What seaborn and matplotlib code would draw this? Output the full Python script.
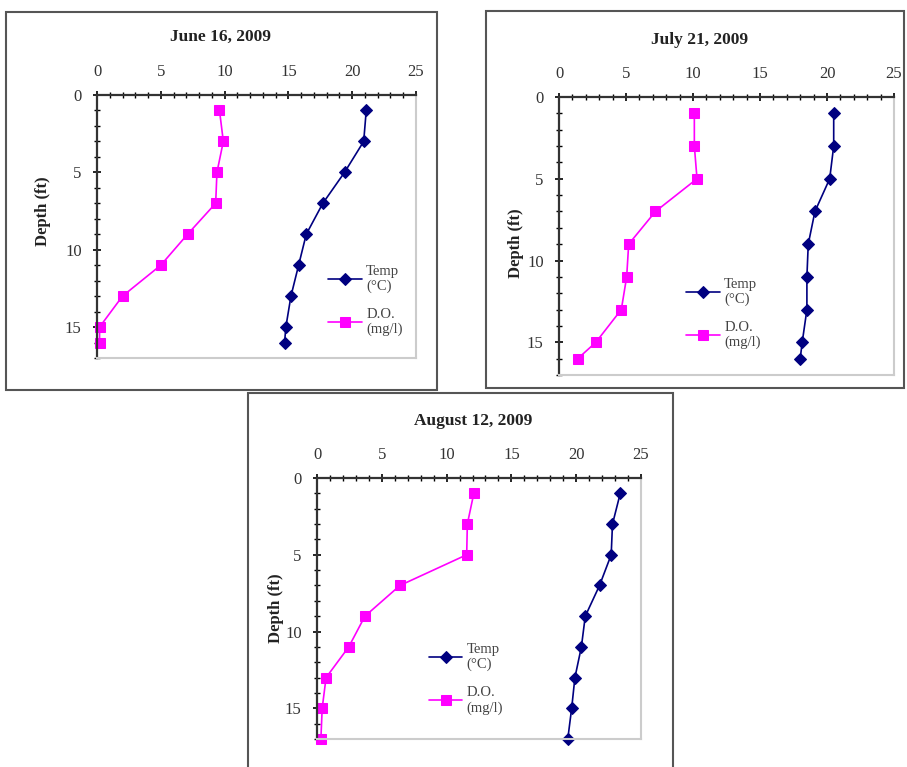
import matplotlib
matplotlib.use("Agg")
import matplotlib.pyplot as plt
import seaborn as sns
import pandas as pd
from matplotlib.patches import Rectangle
from matplotlib.ticker import MultipleLocator

titles = ["June 16, 2009", "July 21, 2009", "August 12, 2009"]
depth_jun = [1, 3, 5, 7, 9, 11, 13, 15, 16]
temp_jun = [21.1, 20.9, 19.4, 17.7, 16.4, 15.8, 15.2, 14.8, 14.7]
do_jun = [9.6, 9.9, 9.4, 9.3, 7.1, 5.0, 2.0, 0.2, 0.2]
depth_jul = [1, 3, 5, 7, 9, 11, 13, 15, 16]
temp_jul = [20.5, 20.5, 20.2, 19.1, 18.6, 18.5, 18.5, 18.15, 18.0]
do_jul = [10.1, 10.1, 10.3, 7.2, 5.2, 5.05, 4.65, 2.75, 1.4]
depth_aug = [1, 3, 5, 7, 9, 11, 13, 15, 17]
temp_aug = [23.4, 22.8, 22.7, 21.8, 20.7, 20.4, 19.9, 19.65, 19.35]
do_aug = [12.1, 11.6, 11.55, 6.4, 3.7, 2.45, 0.7, 0.4, 0.3]
temp_label = "Temp\n(°C)"
do_label = "D.O.\n(mg/l)"
x_ticks = [0, 5, 10, 15, 20, 25]
y_ticks = [0, 5, 10, 15]

W, H = 907, 767
sns.set_theme(style="white")
plt.rcParams['font.family'] = ['Liberation Serif', 'DejaVu Serif']
fig = plt.figure(figsize=(W / 100, H / 100), dpi=100)

def px_rect(l, t, r, b):
    return [l / W, 1 - b / H, (r - l) / W, (b - t) / H]

frames = [(6, 12, 437, 390), (486, 11, 904, 388), (248, 393, 673, 775)]
for (l, t, r, b) in frames:
    fig.patches.append(Rectangle((l / W, 1 - b / H), (r - l) / W, (b - t) / H,
                                 transform=fig.transFigure, fill=False,
                                 edgecolor="#555555", linewidth=1.5))

axes_px = [(97, 95, 416, 358), (559, 97, 894, 375), (317, 478, 641, 739)]
datasets = [(depth_jun, temp_jun, do_jun), (depth_jul, temp_jul, do_jul),
            (depth_aug, temp_aug, do_aug)]
leg_anchor = [(0.725, 0.355), (0.38, 0.35), (0.345, 0.368)]
ylabel_pos = [(-0.145, 0.56), (-0.104, 0.475), (-0.102, 0.50)]
title_pos = [(221, 37), (700, 40), (473, 421)]

for i, (box, (dep, tmp, dox)) in enumerate(zip(axes_px, datasets)):
    ax = fig.add_axes(px_rect(*box))
    df_t = pd.DataFrame({"x": tmp, "depth": dep})
    df_d = pd.DataFrame({"x": dox, "depth": dep})
    sns.lineplot(data=df_t, x="x", y="depth", sort=False, estimator=None,
                 orient="y", ax=ax, color="#000080",
                 marker="D", markersize=6, markeredgecolor="#000080",
                 linewidth=1.2, label=temp_label, clip_on=False)
    sns.lineplot(data=df_d, x="x", y="depth", sort=False, estimator=None,
                 orient="y", ax=ax, color="#FF00FF",
                 marker="s", markersize=7.5, markeredgecolor="#FF00FF",
                 linewidth=1.2, label=do_label, clip_on=False)
    ax.set_xlim(0, 25)
    ax.set_ylim(17, 0)
    ax.xaxis.tick_top()
    ax.set_xticks(x_ticks)
    ax.set_yticks(y_ticks)
    ax.xaxis.set_minor_locator(MultipleLocator(1))
    ax.yaxis.set_minor_locator(MultipleLocator(1))
    ax.tick_params(which="major", direction="inout", length=6, width=1.2,
                   color="black", labelsize=12, pad=8, labelcolor="#333333")
    ax.tick_params(which="minor", direction="inout", length=4, width=1.0,
                   color="black")
    ax.tick_params(axis="x", which="both", top=True, bottom=False)
    ax.tick_params(axis="y", which="both", left=True, right=False)
    for s in ["left", "top"]:
        ax.spines[s].set_color("#333333")
        ax.spines[s].set_linewidth(1.6)
    for s in ["right", "bottom"]:
        ax.spines[s].set_color("#cccccc")
        ax.spines[s].set_linewidth(1.5)
    ax.set_xlabel("")
    ax.set_ylabel("Depth (ft)", fontsize=12, fontweight="bold", color="#222222")
    ax.yaxis.set_label_coords(*ylabel_pos[i])
    fig.text(title_pos[i][0] / W, 1 - title_pos[i][1] / H, titles[i],
             fontsize=12.5, fontweight="bold", ha="center", va="center",
             color="#222222")
    leg = ax.legend(loc="upper left", bbox_to_anchor=leg_anchor[i], frameon=False,
                    fontsize=10.5, handlelength=2.3, labelspacing=1.0,
                    handletextpad=0.3, borderaxespad=0, borderpad=0)
    for t in leg.get_texts():
        t.set_color("#444444")

fig.savefig("out.png", dpi=100)
